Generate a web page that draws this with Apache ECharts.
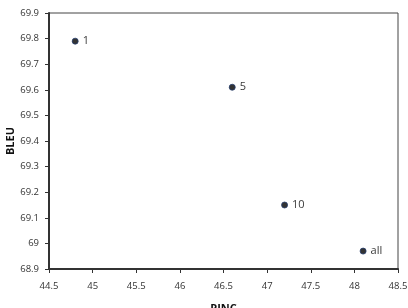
<!DOCTYPE html>
<html><head><meta charset="utf-8">
<script src="https://cdn.jsdelivr.net/npm/echarts@6/dist/echarts.min.js"></script>
<style>html,body{margin:0;padding:0;background:#fff}#c{width:408px;height:308px}</style>
</head><body><div id="c"></div>
<script>
const labels = ["1", "5", "10", "all"];
const pinc = [44.8, 46.6, 47.2, 48.1];
const bleu = [69.79, 69.61, 69.15, 68.97];

const chart = echarts.init(document.getElementById('c'), null, {renderer: 'canvas'});
const font = '"Open Sans", sans-serif';
chart.setOption({
  animation: false,
  grid: {left: 49, right: 10, top: 13, bottom: 39, show: true, borderColor: '#444', borderWidth: 1,
    containLabel: false, outerBoundsMode: 'none'},
  xAxis: {
    type: 'value', min: 44.5, max: 48.5, interval: 0.5,
    name: 'PINC', nameLocation: 'middle', nameGap: 34, nameMoveOverlap: false,
    nameTextStyle: {fontWeight: 'bold', fontSize: 11, color: '#111', fontFamily: font},
    axisLine: {show: true, onZero: false, lineStyle: {color: '#333', width: 2}},
    axisTick: {show: true, length: 4, lineStyle: {color: '#333'}},
    axisLabel: {fontSize: 9.5, color: '#333', fontFamily: font, margin: 12},
    splitLine: {show: false}
  },
  yAxis: {
    type: 'value', min: 68.9, max: 69.9, interval: 0.1,
    name: 'BLEU', nameLocation: 'middle', nameGap: 33, nameRotate: 90, nameMoveOverlap: false,
    nameTextStyle: {fontWeight: 'bold', fontSize: 11, color: '#111', fontFamily: font},
    axisLine: {show: true, onZero: false, lineStyle: {color: '#333', width: 2}},
    axisTick: {show: true, length: 4, lineStyle: {color: '#333'}},
    axisLabel: {fontSize: 9.5, color: '#333', fontFamily: font, margin: 10,
      formatter: v => String(Math.round(v * 10) / 10)},
    splitLine: {show: false}
  },
  series: [{
    type: 'scatter',
    symbolSize: 6,
    itemStyle: {color: '#000', borderColor: '#243c6c', borderWidth: 1},
    data: pinc.map((x, i) => ({value: [x, bleu[i]], name: labels[i]})),
    label: {show: true, position: 'right', distance: 4, formatter: p => p.name,
      fontSize: 11, color: '#000', fontFamily: font}
  }]
});
</script></body></html>
